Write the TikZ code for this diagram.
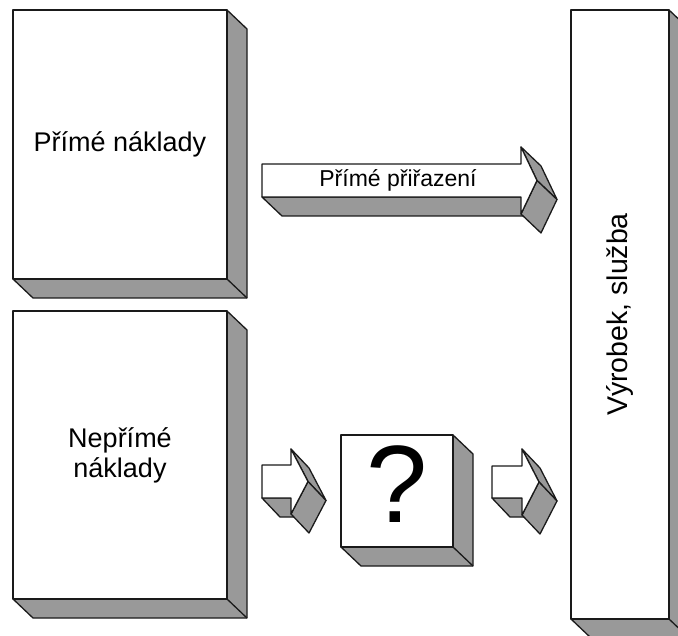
\documentclass[tikz,border=0pt]{standalone}
\usepackage{fontspec}
\setmainfont{Liberation Sans}
\usetikzlibrary{calc,backgrounds}

\definecolor{edgeink}{RGB}{26,26,26}
\definecolor{sidegray}{RGB}{153,153,153}

\tikzset{
  frontface/.style={draw=edgeink, fill=white, line width=1.3pt, line join=round,
                    inner sep=0pt, outer sep=0pt, align=center},
  sideface/.style={draw=edgeink, fill=sidegray, line width=1.3pt, line join=round},
  boxlabel/.style={font=\fontsize{27}{30}\selectfont, align=center},
}

% Extruded depth (right side and underside) behind a rectangular front node
\newcommand\slabdepth[1]{%
  \begin{scope}[on background layer]
    \filldraw[sideface] (#1.north east) -- ++(20,19)
      -- ($(#1.south east)+(20,19)$) -- ($(#1.south west)+(20,19)$)
      -- (#1.south west) -- cycle;
    \draw[sideface] (#1.south east) -- ++(20,19);
  \end{scope}}

% Extruded block arrow:
% #1 tail x, #2 head base x, #3 tip x, #4 axis y,
% #5 shaft half-height, #6 head half-height, #7/#8 depth offset
\newcommand\blockarrow[8]{%
  \filldraw[sideface] (#1,#4+#5) -- (#2,#4+#5) -- (#2+#7,#4+#5+#8) -- (#1+#7,#4+#5+#8) -- cycle;
  \filldraw[sideface] (#2,#4-#6) -- (#3,#4) -- (#3+#7,#4+#8) -- (#2+#7,#4-#6+#8) -- cycle;
  \filldraw[sideface] (#3,#4) -- (#2,#4+#6) -- (#2+#7,#4+#6+#8) -- (#3+#7,#4+#8) -- cycle;
  \filldraw[frontface] (#1,#4-#5) -- (#2,#4-#5) -- (#2,#4-#6) -- (#3,#4)
      -- (#2,#4+#6) -- (#2,#4+#5) -- (#1,#4+#5) -- cycle;}

\begin{document}
\begin{tikzpicture}[x=1pt,y=-1pt]
\useasboundingbox (0,0) rectangle (678,636);
\clip (0,0) rectangle (678,636);

% cost boxes
\node[frontface, boxlabel, minimum width=214pt, minimum height=269pt] (direct) at (120,144.5) {Přímé náklady};
\slabdepth{direct}
\node[frontface, boxlabel, minimum width=214pt, minimum height=288pt] (indirect) at (120,455) {Nepřímé\\náklady};
\slabdepth{indirect}

% product / service column
\node[frontface, minimum width=98pt, minimum height=609pt] (product) at (620,314.5) {};
\slabdepth{product}
\node[font=\fontsize{28.5}{30}\selectfont, rotate=90] (productlabel) at (product.center) {Výrobek, služba};

% allocation method box
\node[frontface, minimum width=112pt, minimum height=112pt] (unknown) at (397,491) {};
\slabdepth{unknown}
\node[font=\fontsize{110}{110}\selectfont] (qmark) at (397,484) {?};

% arrows
\blockarrow{262}{521}{537}{180.5}{16.5}{33.5}{20}{19}
\node[font=\fontsize{23}{25}\selectfont] (assignlabel) at (398,180.5) {Přímé přiřazení};
\blockarrow{262}{291}{308}{481.5}{16.5}{32.5}{18}{19}
\blockarrow{492}{522}{539}{482}{16}{33}{18}{19}
\end{tikzpicture}
\end{document}
